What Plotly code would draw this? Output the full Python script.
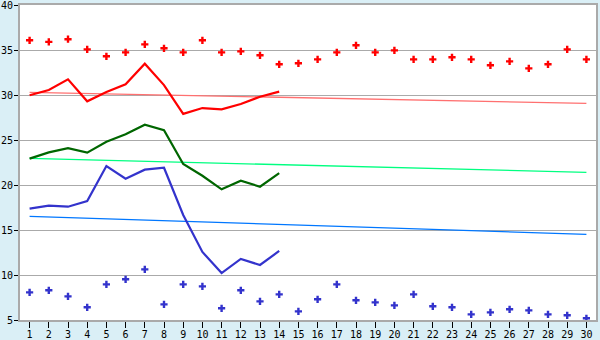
import plotly.graph_objects as go

days = list(range(1, 31))
line_days = list(range(1, 15))

red_points = [36.08, 35.9, 36.2, 35.07, 34.3, 34.74, 35.63, 35.19, 34.74, 36.08,
              34.74, 34.85, 34.41, 33.41, 33.52, 33.96, 34.74, 35.52, 34.74, 34.96,
              33.96, 33.96, 34.19, 33.96, 33.3, 33.74, 32.96, 33.41, 35.07, 33.96]
blue_points = [8.07, 8.3, 7.63, 6.41, 8.96, 9.52, 10.63, 6.74, 8.96, 8.74,
               6.3, 8.3, 7.07, 7.85, 5.96, 7.3, 8.96, 7.19, 6.96, 6.63,
               7.85, 6.52, 6.41, 5.63, 5.85, 6.19, 6.07, 5.63, 5.52, 5.19]
red_line = [29.97, 30.56, 31.74, 29.3, 30.33, 31.2, 33.48, 31.1, 27.9, 28.55,
            28.4, 29.0, 29.81, 30.37]
green_line = [22.93, 23.63, 24.1, 23.59, 24.81, 25.63, 26.7, 26.1, 22.33, 21.03,
              19.52, 20.48, 19.81, 21.33]
blue_line = [17.37, 17.7, 17.59, 18.22, 22.11, 20.7, 21.7, 21.92, 16.67, 12.56,
             10.22, 11.78, 11.11, 12.67]
trend_days = [1, 30]
red_trend = [30.3, 29.07]
green_trend = [22.96, 21.41]
blue_trend = [16.52, 14.52]

fig = go.Figure()
for ys, c in [(red_trend, "#ff7070"), (green_trend, "#00ff80"), (blue_trend, "#0077ff")]:
    fig.add_trace(go.Scatter(x=trend_days, y=ys, mode="lines",
                             line=dict(color=c, width=1.3), hoverinfo="skip"))
for ys, c in [(red_line, "#ff0000"), (green_line, "#006600"), (blue_line, "#3333cc")]:
    fig.add_trace(go.Scatter(x=line_days, y=ys, mode="lines",
                             line=dict(color=c, width=2.2)))
fig.add_trace(go.Scatter(x=days, y=red_points, mode="markers",
                         marker=dict(symbol="cross", size=6, color="#ff0000")))
fig.add_trace(go.Scatter(x=days, y=blue_points, mode="markers",
                         marker=dict(symbol="cross", size=6, color="#3333cc")))

fig.update_layout(
    width=600, height=340,
    margin=dict(l=20, r=4, t=5, b=20),
    paper_bgcolor="#daeff6", plot_bgcolor="#ffffff",
    showlegend=False,
    font=dict(family="DejaVu Sans Mono", color="#000000"),
)
fig.update_xaxes(range=[0.5, 30.5], tickmode="array", tickvals=days,
                 ticktext=[str(d) for d in days], ticks="outside", ticklen=6,
                 tickcolor="#000000", tickfont=dict(size=10), automargin=False,
                 ticklabelstandoff=-2, ticklabeloverflow="allow",
                 showgrid=False, showline=True, linecolor="#aaaaaa", linewidth=2,
                 mirror=True, zeroline=False)
fig.update_yaxes(range=[5, 40], tickvals=[5, 10, 15, 20, 25, 30, 35, 40],
                 ticks="outside", ticklen=4, tickcolor="#000000",
                 tickfont=dict(size=10), automargin=False,
                 ticklabelstandoff=-1, ticklabeloverflow="allow",
                 showgrid=True, gridcolor="#aaaaaa", gridwidth=1,
                 showline=True, linecolor="#aaaaaa", linewidth=2, mirror=True,
                 zeroline=False)

fig.write_html("out.html")
